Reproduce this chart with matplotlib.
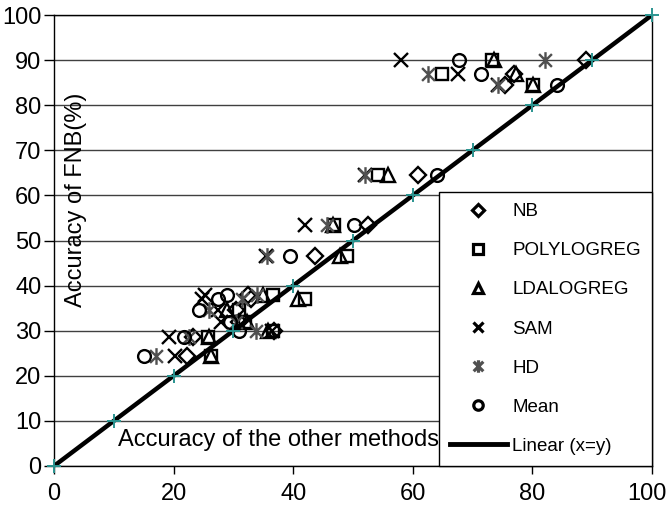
import matplotlib
matplotlib.use("Agg")
import matplotlib.pyplot as plt
import matplotlib.transforms as mtransforms
from matplotlib.path import Path
from matplotlib.lines import Line2D

plt.rcParams['font.family'] = ['Liberation Sans', 'DejaVu Sans']

# FNB accuracy per dataset (y) and accuracy of the other methods (x)
fnb_acc = [24.5, 28.5, 30.0, 32.0, 34.5, 37.0, 38.0, 46.5, 53.5, 64.5, 84.5, 87.0, 90.0]
nb      = [22.2, 23.2, 36.8, 31.0, 30.5, 33.0, 32.4, 43.6, 52.5, 60.9, 75.5, 77.0, 89.0]
poly    = [26.2, 25.8, 36.6, 32.0, 31.0, 42.0, 36.6, 49.0, 46.8, 54.2, 80.1, 64.9, 73.3]
lda     = [26.3, 26.0, 35.8, 32.2, 29.0, 40.8, 34.9, 47.8, 46.6, 55.9, 80.1, 77.2, 73.5]
sam     = [20.3, 19.3, 36.4, 28.0, 27.4, 24.8, 25.3, 35.5, 42.0, 52.0, 74.2, 67.6, 58.0]
hd      = [17.0, 22.5, 33.8, 30.5, 26.0, 31.5, 33.9, 35.6, 45.6, 52.0, 74.2, 62.5, 82.1]
mean    = [15.0, 21.8, 31.0, 29.4, 24.3, 27.5, 28.9, 39.5, 50.2, 64.0, 84.1, 71.4, 67.8]

# reference line x = y and its point markers
line_ends = [0, 100]
line_points = [0, 10, 20, 30, 40, 50, 60, 70, 80, 90, 100]

x_ticks = [0, 20, 40, 60, 80, 100]
y_ticks = [0, 10, 20, 30, 40, 50, 60, 70, 80, 90, 100]

# star marker: an X with a vertical bar
star = Path([(-1, -1), (1, 1), (-1, 1), (1, -1), (0, -1.3), (0, 1.3)],
            [Path.MOVETO, Path.LINETO, Path.MOVETO, Path.LINETO, Path.MOVETO, Path.LINETO])

fig = plt.figure(figsize=(6.68, 5.05), dpi=100)
ax = fig.add_axes([54 / 668, 1 - 466 / 505, 598 / 668, 451 / 505])

series = [
    ("NB", nb, "D", "black", 8.2, 6.2),
    ("POLYLOGREG", poly, "s", "black", 8.8, 6.5),
    ("LDALOGREG", lda, "^", "black", 10, 7.2),
    ("SAM", sam, "x", "black", 10, 7.5),
    ("HD", hd, star, "#505050", 12, 9),
    ("Mean", mean, "o", "black", 9.2, 6.8),
]

handles = []
for name, xs, mk, col, ms, lms in series:
    ax.plot(xs, fnb_acc, linestyle="none", marker=mk, markersize=ms,
            markerfacecolor="none", markeredgecolor=col, markeredgewidth=1.7,
            zorder=3)
    handles.append(Line2D([], [], linestyle="none", marker=mk, markersize=lms,
                          markerfacecolor="none", markeredgecolor=col,
                          markeredgewidth=2.3, label=name))

ax.plot(line_ends, line_ends, color="black", linewidth=3.2, zorder=4,
        solid_capstyle="butt")
ax.plot(line_points, line_points, linestyle="none", marker="+", markersize=10,
        markeredgewidth=1.4, color="#2a9490", zorder=5, clip_on=False)
handles.append(Line2D([], [], color="black", linewidth=3.5, label="Linear (x=y)"))

ax.set_xlim(0, 100)
ax.set_ylim(0, 100)
ax.set_xticks(x_ticks)
ax.set_yticks(y_ticks)
ax.tick_params(axis="both", direction="out", labelsize=17, colors="black",
               width=1)
ax.tick_params(axis="y", length=7, pad=2)
ax.tick_params(axis="x", length=6, pad=6)
ax.yaxis.grid(True, color="#404040", linewidth=1)
ax.set_axisbelow(True)
for sp in ax.spines.values():
    sp.set_color("black")
    sp.set_linewidth(1)

# keep the last x tick label inside the figure
last = ax.get_xticklabels()[-1]
last.set_transform(last.get_transform() +
                   mtransforms.ScaledTranslation(-5 / 100, 0, fig.dpi_scale_trans))

ax.text(3.7, 59, "Accuracy of FNB(%)", rotation=90, ha="center", va="center",
        fontsize=17, zorder=6)
ax.text(37.5, 5.8, "Accuracy of the other methods", ha="center", va="center",
        fontsize=17, zorder=6)

leg = ax.legend(handles=handles, loc="lower right", bbox_to_anchor=(1, 0),
                borderaxespad=0, fontsize=13.5, frameon=True, fancybox=False,
                edgecolor="black", framealpha=1, labelspacing=1.17,
                handlelength=3.0, handletextpad=0.3, borderpad=0.6)
leg.get_frame().set_linewidth(1)
leg.set_zorder(10)

fig.savefig("out.png", dpi=100)
